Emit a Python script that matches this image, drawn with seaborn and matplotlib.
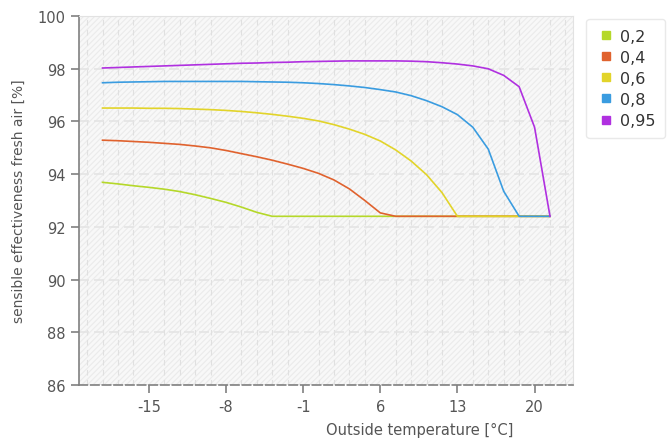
import pandas as pd
import numpy as np
import matplotlib
matplotlib.use("Agg")
import matplotlib.pyplot as plt
import seaborn as sns
from matplotlib.patches import Rectangle
from matplotlib.lines import Line2D

temps = [-19.2, -17.8, -16.4, -15.0, -13.6, -12.2, -10.8, -9.4, -8.0, -6.6,
         -5.2, -3.8, -2.4, -1.0, 0.4, 1.8, 3.2, 4.6, 6.0, 7.4,
         8.8, 10.2, 11.6, 13.0, 14.4, 15.8, 17.2, 18.6, 20.0, 21.4]

eff_02 = [93.69, 93.63, 93.56, 93.50, 93.43, 93.34, 93.22, 93.08, 92.93, 92.75,
          92.55, 92.40, 92.40, 92.40, 92.40, 92.40, 92.40, 92.40, 92.40, 92.40,
          92.40, 92.40, 92.40, 92.40, 92.40, 92.40, 92.40, 92.40, 92.40, 92.40]
eff_04 = [95.29, 95.27, 95.24, 95.21, 95.17, 95.13, 95.07, 95.00, 94.90, 94.78,
          94.66, 94.53, 94.38, 94.22, 94.03, 93.78, 93.44, 93.00, 92.53, 92.40,
          92.40, 92.40, 92.40, 92.40, 92.40, 92.40, 92.40, 92.40, 92.40, 92.40]
eff_06 = [96.51, 96.51, 96.51, 96.50, 96.50, 96.49, 96.47, 96.45, 96.42, 96.38,
          96.33, 96.27, 96.20, 96.12, 96.02, 95.88, 95.71, 95.51, 95.26, 94.92,
          94.50, 93.98, 93.30, 92.40, 92.40, 92.40, 92.40, 92.40, 92.40, 92.40]
eff_08 = [97.47, 97.49, 97.50, 97.51, 97.52, 97.52, 97.52, 97.52, 97.52, 97.52,
          97.51, 97.50, 97.49, 97.47, 97.44, 97.40, 97.35, 97.29, 97.21, 97.12,
          96.98, 96.79, 96.56, 96.26, 95.78, 94.95, 93.35, 92.40, 92.40, 92.40]
eff_095 = [98.03, 98.05, 98.07, 98.09, 98.11, 98.13, 98.15, 98.17, 98.19, 98.21,
           98.22, 98.24, 98.25, 98.27, 98.28, 98.29, 98.30, 98.30, 98.30, 98.30,
           98.29, 98.27, 98.23, 98.18, 98.11, 98.00, 97.75, 97.32, 95.78, 92.40]

labels = ["0,2", "0,4", "0,6", "0,8", "0,95"]
colors = ["#b5d82a", "#e0622e", "#e2d42a", "#3a9ce0", "#b030e0"]

series = [eff_02, eff_04, eff_06, eff_08, eff_095]
df = pd.concat([pd.DataFrame({"temp": temps, "eff": s, "ratio": lab})
                for s, lab in zip(series, labels)])

plt.rcParams["hatch.linewidth"] = 0.8
plt.rcParams["axes.unicode_minus"] = False
plt.rcParams["font.family"] = ["DejaVu Sans"]

fig = plt.figure(figsize=(6.68, 4.39), dpi=100)
ax = fig.add_axes([0.118, 0.121, 0.740, 0.840])

# hatched plot background
ax.set_facecolor("white")
ax.add_patch(Rectangle((0, 0), 1, 1, transform=ax.transAxes, facecolor="#f8f8f8",
                       edgecolor="#ebebeb", hatch="//////", lw=0, zorder=0))

sns.lineplot(data=df, x="temp", y="eff", hue="ratio", palette=colors,
             linewidth=1.2, ax=ax, legend=False, zorder=3)

ax.set_xlim(-21.35, 23.5)
ax.set_ylim(86, 100)
ax.set_xticks([-15, -8, -1, 6, 13, 20])
ax.set_yticks([86, 88, 90, 92, 94, 96, 98, 100])
ax.set_xticks(np.arange(-20.6, 23.5, 1.4), minor=True)
ax.tick_params(axis="x", which="minor", length=0)
ax.grid(axis="y", which="major", color="#e4e4e4", linestyle=(0, (6, 3)), lw=1.2, zorder=1)
ax.grid(axis="x", which="minor", color="#e0e0e0", linestyle=(0, (5, 4)), lw=0.8, zorder=1)

for s in ["top", "right"]:
    ax.spines[s].set_color("#e2e2e2")
ax.spines["left"].set_color("#808080")
ax.spines["left"].set_linewidth(1.2)
ax.spines["bottom"].set_color("#808080")
ax.spines["bottom"].set_linewidth(1.2)
ax.spines["bottom"].set_linestyle((0, (5, 2)))

ax.tick_params(axis="both", which="major", colors="#808080", labelcolor="#555555",
               labelsize=10.5, length=6, width=1.2)
ax.tick_params(axis="x", pad=4)

ax.set_xlabel("Outside temperature [°C]", fontsize=10.5, color="#555555")
ax.xaxis.set_label_coords(0.69, -0.1)
ax.set_ylabel("sensible effectiveness fresh air [%]", fontsize=10, color="#555555")
ax.yaxis.set_label_coords(-0.108, 0.5)

handles = [Line2D([], [], marker="s", linestyle="none", markersize=6,
                  markerfacecolor=c, markeredgecolor=c) for c in colors]
leg = fig.legend(handles, labels, loc="upper left", bbox_to_anchor=(0.866, 0.972),
                 fontsize=11.5, frameon=True, fancybox=True, shadow=False,
                 handletextpad=0.3, labelspacing=0.38, borderpad=0.6,
                 handlelength=1.2)
leg.get_frame().set_edgecolor("#e4e4e4")
for t in leg.get_texts():
    t.set_color("#333333")

fig.savefig("out.png", dpi=100)
